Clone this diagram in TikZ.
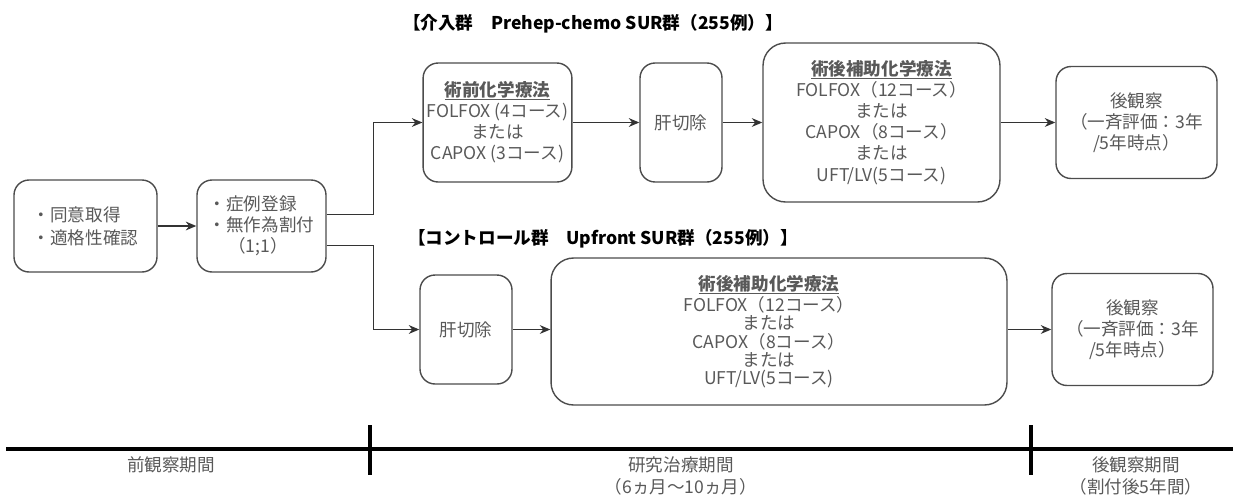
\documentclass[tikz,border=0pt]{standalone}
\usepackage{fontspec}
\setmainfont{Noto Sans CJK JP}
\usepackage{tikz}
\usetikzlibrary{arrows.meta, positioning, calc}
\usepackage{xcolor}

\newsavebox{\headbox}
\newcommand{\boxhead}[1]{\sbox{\headbox}{\textbf{#1}}\usebox{\headbox}\llap{\rule[-2pt]{\wd\headbox}{0.7pt}}}

\begin{document}
\begin{tikzpicture}[
    x=0.02cm, y=-0.02cm,
    box/.style={draw=black!70, line width=0.8pt, rounded corners=0.3cm, align=center,
        text=black!65, inner sep=2pt, font=\fontsize{10}{12}\selectfont},
    bigbox/.style={box, rounded corners=0.45cm},
    grp/.style={font=\fontsize{10}{12}\selectfont\bfseries, text=black},
    arr/.style={-{Stealth[length=6pt, width=5pt]}, line width=0.7pt, black!80},
    axis/.style={line width=2pt, black},
    per/.style={align=center, text=black!65, font=\fontsize{10}{12.5}\selectfont}
]
\useasboundingbox (0,0) rectangle (1233,501);

% screening and randomisation
\node[box, align=left, minimum width=2.86cm, minimum height=1.84cm,
      font=\fontsize{10}{13}\selectfont] (consent) at (85.5,226) {・同意取得\\・適格性確認};
\node[box, align=left, minimum width=2.58cm, minimum height=1.84cm] (regist) at (261.5,226)
    {・症例登録\\・無作為割付\\\hspace*{1.1em}（1;1）};

% intervention arm
\node[grp] (titleA) at (593,24) {【介入群　Prehep-chemo SUR群（255例）】};
\node[box, minimum width=2.94cm, minimum height=2.38cm] (pre) at (497.5,122.5)
    {\boxhead{術前化学療法}\\FOLFOX (4コース)\\または\\CAPOX (3コース)};
\node[box, minimum width=1.64cm, minimum height=2.38cm] (cutA) at (681,122.5) {肝切除};
\node[bigbox, minimum width=4.74cm, minimum height=3.18cm] (adjA) at (881.5,122.5)
    {\boxhead{術後補助化学療法}\\FOLFOX（12コース）\\または\\CAPOX（8コース）\\または\\UFT/LV(5コース)};
\node[box, minimum width=3.22cm, minimum height=2.24cm] (fuA) at (1136.5,122.5)
    {後観察\\（一斉評価：3年\\/5年時点）};

% control arm
\node[grp] (titleB) at (603,239) {【コントロール群　Upfront SUR群（255例）】};
\node[box, minimum width=1.84cm, minimum height=2.18cm] (cutB) at (466,329.5) {肝切除};
\node[bigbox, minimum width=9.12cm, minimum height=2.94cm] (adjB) at (779,331.5) {};
\node[align=center, text=black!65, font=\fontsize{10}{10.5}\selectfont] (adjBtxt) at (769,332)
    {\boxhead{術後補助化学療法}\\FOLFOX（12コース）\\または\\CAPOX（8コース）\\または\\UFT/LV(5コース)};
\node[box, minimum width=3.22cm, minimum height=2.24cm] (fuB) at (1132.5,329.5)
    {後観察\\（一斉評価：3年\\/5年時点）};

\draw[arr] (consent) -- (regist);
\draw[arr] ([yshift=6.5pt]regist.east) -- ++(47,0) |- (pre.west);
\draw[arr] ([yshift=-11pt]regist.east) -- ++(47,0) |- (cutB.west);
\draw[arr] (pre) -- (cutA);
\draw[arr] (cutA) -- (adjA);
\draw[arr] (adjA) -- (fuA);
\draw[arr] (cutB) -- (adjB.west |- cutB);
\draw[arr] (adjB.east |- fuB) -- (fuB);

% time line
\coordinate (t0) at (6,449);
\coordinate (t1) at (1233,449);
\coordinate (m1) at (370,449);
\coordinate (m2) at (1031,449);
\draw[axis] (t0) -- (t1);
\draw[axis] ($(m1)+(0,-24)$) -- ($(m1)+(0,26)$);
\draw[axis] ($(m2)+(0,-24)$) -- ($(m2)+(0,26)$);
\node[per] (pre-obs) at (171,465) {前観察期間};
\node[per] (treat) at (681,476) {研究治療期間\\（6ヵ月〜10ヵ月）};
\node[per] (post-obs) at (1136,476) {後観察期間\\（割付後5年間）};
\end{tikzpicture}
\end{document}
